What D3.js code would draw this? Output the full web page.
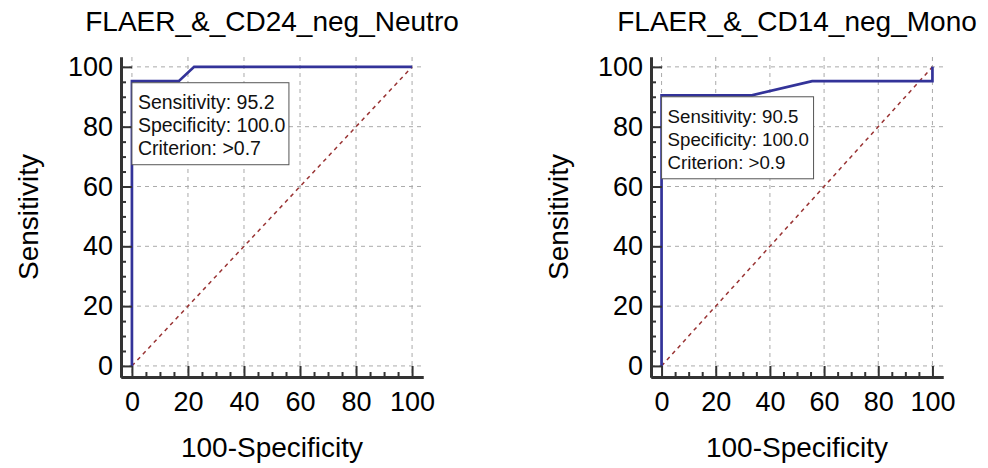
<!DOCTYPE html>
<html>
<head>
<meta charset="utf-8">
<script src="https://cdn.jsdelivr.net/npm/d3@7"></script>
<style>
  body { margin: 0; background: #fff; }
  svg { font-family: "Liberation Sans", Arial, sans-serif; }
</style>
</head>
<body>
<svg id="chart" width="988" height="468"></svg>
<script>
// ROC points (100-Specificity, Sensitivity)
var neutroFpr = [0, 0, 16.7, 22.2, 100];
var neutroTpr = [0, 95.2, 95.2, 100, 100];
var monoFpr = [0, 0, 33.3, 55.6, 100, 100];
var monoTpr = [0, 90.5, 90.5, 95.2, 95.2, 100];

var panelTitles = ["FLAER_&_CD24_neg_Neutro", "FLAER_&_CD14_neg_Mono"];
var cutSensitivity = ["95.2", "90.5"];
var cutSpecificity = ["100.0", "100.0"];
var cutCriterion = [">0.7", ">0.9"];

var majorTicks = [0, 20, 40, 60, 80, 100];
var minorTicks = [5, 10, 15, 25, 30, 35, 45, 50, 55, 65, 70, 75, 85, 90, 95];

var svg = d3.select("#chart");

function drawPanel(left, right, fpr, tpr, i, boxWidth, boxFont) {
  var g = svg.append("g");
  var x = d3.scaleLinear().domain([-3.9, 103.9]).range([left, right]);
  var y = d3.scaleLinear().domain([-3.7, 103.3]).range([377, 57]);

  // grid
  g.selectAll(".hgrid").data(majorTicks).enter().append("line")
    .attr("x1", left).attr("x2", right)
    .attr("y1", function (d) { return y(d); })
    .attr("y2", function (d) { return y(d); })
    .attr("stroke", "#aaa").attr("stroke-dasharray", "4,4");
  g.selectAll(".vgrid").data(majorTicks).enter().append("line")
    .attr("y1", 57).attr("y2", 377)
    .attr("x1", function (d) { return x(d); })
    .attr("x2", function (d) { return x(d); })
    .attr("stroke", "#aaa").attr("stroke-dasharray", "4,4");

  // diagonal reference
  g.append("line")
    .attr("x1", x(0)).attr("y1", y(0)).attr("x2", x(100)).attr("y2", y(100))
    .attr("stroke", "#993333").attr("stroke-width", 1.5).attr("stroke-dasharray", "4,4");

  // roc curve
  var pts = fpr.map(function (d, k) { return [d, tpr[k]]; });
  g.append("path")
    .attr("d", d3.line().x(function (d) { return x(d[0]); }).y(function (d) { return y(d[1]); })(pts))
    .attr("fill", "none").attr("stroke", "#333399").attr("stroke-width", 2.7);

  // axes
  g.append("g").attr("transform", "translate(" + left + ",0)")
    .call(d3.axisLeft(y).tickValues(majorTicks).tickSizeInner(-11).tickSizeOuter(0).tickPadding(8));
  g.append("g").attr("transform", "translate(" + left + ",0)")
    .call(d3.axisLeft(y).tickValues(minorTicks).tickSizeInner(-5).tickSizeOuter(0).tickFormat(""));
  g.append("g").attr("transform", "translate(0,377)")
    .call(d3.axisBottom(x).tickValues(majorTicks).tickSizeInner(-11).tickSizeOuter(0).tickPadding(15));
  g.append("g").attr("transform", "translate(0,377)")
    .call(d3.axisBottom(x).tickValues(minorTicks).tickSizeInner(-5).tickSizeOuter(0).tickFormat(""));

  g.selectAll(".domain").attr("stroke", "#333").attr("stroke-width", 3);
  g.selectAll(".tick line").attr("stroke", "#333").attr("stroke-width", 2);
  g.selectAll(".tick text").attr("font-size", 27).attr("fill", "#000")
    .attr("font-family", "Liberation Sans, Arial, sans-serif");

  // criterion box
  var bx = x(0), by = y(tpr[1]) + 1.5;
  g.append("rect").attr("x", bx).attr("y", by).attr("width", boxWidth).attr("height", 82)
    .attr("fill", "#fff").attr("stroke", "#555").attr("stroke-width", 1);
  var lines = ["Sensitivity: " + cutSensitivity[i], "Specificity: " + cutSpecificity[i], "Criterion: " + cutCriterion[i]];
  g.selectAll(".boxtext").data(lines).enter().append("text")
    .attr("x", bx + 6)
    .attr("y", function (d, k) { return by + 26 + k * 23; })
    .attr("font-size", boxFont).attr("fill", "#111")
    .text(function (d) { return d; });

  // titles
  g.append("text").attr("x", (x(0) + x(100)) / 2).attr("y", 31)
    .attr("text-anchor", "middle").attr("font-size", 28).text(panelTitles[i]);
  g.append("text").attr("x", (x(0) + x(100)) / 2).attr("y", 457)
    .attr("text-anchor", "middle").attr("font-size", 28).text("100-Specificity");
  g.append("text").attr("transform", "translate(" + (left - 83) + ",217) rotate(-90)")
    .attr("text-anchor", "middle").attr("font-size", 28).text("Sensitivity");
}

drawPanel(121, 423, neutroFpr, neutroTpr, 0, 157, 19.5);
drawPanel(651, 943, monoFpr, monoTpr, 1, 152, 18.7);
</script>
</body>
</html>
